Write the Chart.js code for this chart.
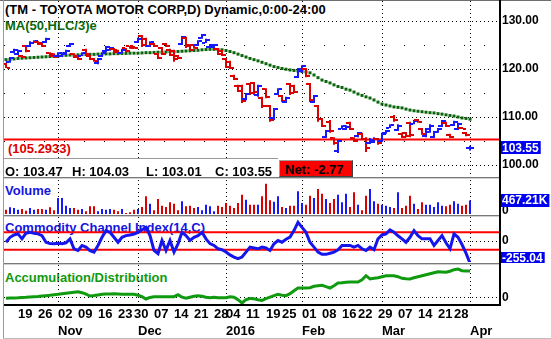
<!DOCTYPE html>
<html>
<head>
<meta charset="utf-8">
<script src="https://cdn.jsdelivr.net/npm/chart.js@4.4.1/dist/chart.umd.min.js"></script>
<style>
  html, body { margin: 0; padding: 0; background: #fff; }
  #wrap { position: relative; width: 551px; height: 339px; overflow: hidden; background: #fff;
          font-family: "Liberation Sans", Arial, Helvetica, sans-serif; font-weight: bold; }
  .pane { position: absolute; left: 0; z-index: 1; }
  .txt { position: absolute; font-size: 13px; line-height: 13px; white-space: nowrap; z-index: 0; }
  .line { position: absolute; z-index: 3; }
  #strip { position: absolute; left: 4px; top: 158px; width: 274px; height: 19px; background: #fff;
           border-top: 1px solid #9a9a9a; z-index: 2; }
  #strip span { position: absolute; top: 6px; font-size: 13px; line-height: 13px; white-space: nowrap; }
  #net { position: absolute; left: 279px; top: 160px; width: 72px; height: 15px; background: #ff0000;
         border-top: 1px solid #a0a0a0; border-left: 1px solid #a0a0a0;
         border-right: 1px solid #404040; border-bottom: 1px solid #404040;
         font-size: 13px; line-height: 15px; z-index: 2; }
  #net span { position: absolute; left: 5px; top: 1px; }
</style>
</head>
<body>
<div id="wrap">
  <div class="txt" style="left:5px;top:3px;color:#000">(TM - TOYOTA MOTOR CORP,D) Dynamic,0:00-24:00</div>
  <div class="txt" style="left:5px;top:19px;color:#0a6a0a">MA(50,HLC/3)e</div>
  <div class="txt" id="trendTxt" style="left:8px;top:142px;color:#e00000"></div>
  <div class="txt" style="left:5px;top:184px;color:#1515e0">Volume</div>
  <div class="txt" style="left:5px;top:221px;color:#1515e0">Commodity Channel Index(14,C)</div>
  <div class="txt" style="left:5px;top:271px;color:#109a10">Accumulation/Distribution</div>

  <canvas class="pane" id="cPrice" width="551" height="178" style="top:0"></canvas>
  <canvas class="pane" id="cVol" width="551" height="35" style="top:180px"></canvas>
  <canvas class="pane" id="cCci" width="551" height="46" style="top:217px"></canvas>
  <canvas class="pane" id="cAd" width="551" height="74" style="top:265px"></canvas>

  <div id="strip">
    <span id="oTxt" style="left:1px"></span>
    <span id="hTxt" style="left:68px"></span>
    <span id="lTxt" style="left:142px"></span>
    <span id="cTxt" style="left:211px"></span>
  </div>
  <div id="net"><span id="netTxt"></span></div>

  <div class="line" style="left:0;top:0;width:551px;height:1px;background:#6e6e6e"></div>
  <div class="line" style="left:3px;top:0;width:1px;height:339px;background:#9a9a9a"></div>
  <div class="line" style="left:3px;top:338px;width:548px;height:1px;background:#bdbdbd"></div>
  <div class="line" style="left:499px;top:0;width:2px;height:306px;background:#000"></div>
  <div class="line" style="left:4px;top:304px;width:497px;height:2px;background:#000"></div>
  <div class="line" style="left:4px;top:177px;width:495px;height:1px;background:#7a7a7a"></div>
  <div class="line" style="left:4px;top:178px;width:495px;height:1px;background:#cfcfcf"></div>
  <div class="line" style="left:4px;top:215px;width:495px;height:1px;background:#7a7a7a"></div>
  <div class="line" style="left:4px;top:216px;width:495px;height:1px;background:#cfcfcf"></div>
  <div class="line" style="left:4px;top:263px;width:495px;height:1px;background:#7a7a7a"></div>
  <div class="line" style="left:4px;top:264px;width:495px;height:1px;background:#cfcfcf"></div>
</div>

<script>
// daily bars, 14 Oct 2015 .. 1 Apr 2016 (index = trading day)
const opens = [
  121.0, 121.5, 123.5, 123.2, 122.8, 124.8, 124.8, 125.5, 125.6, 125.4,
  125.6, 123.3, 123.2, 122.8, 122.8, 123.1, 124.8, 123.1, 122.7, 122.8,
  124.0, 122.7, 122.1, 121.2, 122.7, 123.7, 123.9, 124.2, 123.9, 123.4,
  124.3, 124.7, 124.7, 125.6, 126.8, 126.3, 124.8, 125.3, 123.1, 124.4,
  125.3, 124.0, 123.8, 122.8, 125.2, 126.5, 125.0, 125.0, 125.0, 126.4,
  125.5, 124.5, 124.6, 124.2, 123.8, 122.1, 121.5, 118.6, 116.5, 116.4,
  113.7, 116.9, 117.0, 114.5, 114.0, 115.8, 112.2, 109.7, 114.8, 114.4,
  113.1, 116.9, 116.5, 118.4, 119.5, 120.0, 116.8, 113.1, 112.2, 109.6,
  105.8, 109.0, 105.6, 102.9, 107.6, 107.5, 108.8, 105.6, 106.0, 106.5,
  105.5, 104.6, 104.8, 105.4, 105.0, 106.6, 107.8, 110.1, 107.3, 106.5,
  106.7, 108.8, 108.6, 109.4, 107.5, 106.0, 106.9, 105.8, 106.8, 108.1,
  108.8, 106.3, 108.3, 107.5, 107.8, 106.7, 103.47
];
const highs = [
  121.3, 122.5, 124.2, 124.0, 122.9, 125.0, 125.8, 126.0, 125.8, 125.6,
  126.5, 123.5, 123.3, 123.5, 123.5, 124.0, 125.4, 123.3, 122.9, 123.5,
  124.2, 122.9, 122.3, 122.3, 123.5, 124.8, 124.6, 124.4, 124.0, 124.2,
  124.4, 124.8, 124.8, 126.5, 127.1, 126.5, 125.8, 125.4, 123.3, 124.6,
  125.4, 124.2, 124.0, 122.9, 126.9, 126.7, 125.2, 125.2, 126.0, 127.3,
  126.3, 125.2, 125.2, 124.4, 124.0, 122.3, 121.7, 118.8, 116.7, 116.7,
  115.0, 117.1, 117.3, 116.7, 114.2, 116.0, 112.5, 111.9, 116.0, 114.6,
  114.2, 117.1, 116.7, 120.2, 120.8, 120.2, 117.1, 114.6, 112.5, 109.8,
  107.3, 109.4, 105.8, 105.2, 108.3, 108.3, 109.0, 105.8, 106.9, 106.7,
  105.8, 105.6, 105.8, 105.6, 106.7, 107.3, 108.5, 110.4, 108.5, 106.7,
  106.9, 109.0, 109.4, 109.6, 107.7, 107.7, 108.5, 107.1, 107.7, 109.4,
  109.0, 106.5, 109.2, 108.8, 107.9, 106.9, 104.03
];
const lows = [
  120.2, 121.3, 123.3, 122.9, 122.3, 123.5, 124.6, 125.4, 125.0, 124.6,
  125.4, 122.5, 122.3, 122.7, 122.5, 122.9, 124.6, 122.3, 121.9, 122.7,
  122.9, 121.9, 121.5, 121.0, 122.5, 123.5, 123.8, 123.3, 123.3, 123.3,
  123.5, 124.2, 124.2, 125.4, 124.6, 124.6, 124.6, 124.6, 122.1, 122.9,
  124.6, 122.7, 121.5, 122.1, 125.0, 124.4, 123.8, 124.2, 124.8, 126.3,
  125.4, 124.4, 124.4, 122.9, 122.7, 120.2, 120.0, 117.7, 115.2, 112.9,
  113.5, 114.6, 114.6, 114.2, 111.9, 113.9, 109.0, 109.4, 114.6, 113.1,
  112.9, 114.6, 115.0, 118.1, 119.2, 118.3, 113.1, 112.9, 109.0, 107.9,
  105.6, 106.7, 104.2, 102.5, 107.5, 107.3, 107.3, 104.8, 105.8, 105.2,
  102.7, 104.4, 104.6, 104.2, 104.8, 106.5, 107.7, 109.0, 107.1, 105.6,
  105.8, 105.8, 108.5, 108.8, 106.3, 105.8, 106.7, 105.6, 106.7, 107.9,
  107.9, 105.6, 108.1, 107.3, 107.5, 106.0, 103.01
];
const closes = [
  120.3, 122.3, 124.0, 123.8, 122.5, 123.8, 125.5, 125.9, 125.2, 124.8,
  126.3, 122.7, 122.6, 123.3, 123.4, 123.8, 125.3, 122.5, 122.1, 123.3,
  123.2, 122.0, 121.6, 122.1, 123.3, 124.6, 124.4, 123.5, 123.4, 124.0,
  123.7, 124.3, 124.3, 126.3, 124.9, 124.8, 125.6, 124.8, 122.3, 123.2,
  124.8, 123.0, 122.0, 122.3, 126.7, 124.7, 124.0, 124.4, 125.8, 127.1,
  126.1, 125.0, 125.1, 123.2, 123.0, 120.5, 120.3, 117.9, 115.5, 113.3,
  114.8, 115.0, 115.2, 116.4, 112.2, 114.2, 109.4, 111.6, 115.8, 113.4,
  114.0, 115.0, 115.3, 119.9, 120.6, 118.6, 113.5, 114.3, 109.5, 108.2,
  107.0, 107.0, 104.5, 104.9, 108.1, 108.0, 107.6, 105.0, 106.7, 105.5,
  103.5, 105.3, 105.5, 104.5, 106.4, 107.1, 108.3, 109.3, 108.2, 105.8,
  106.0, 106.2, 109.2, 108.9, 106.5, 107.4, 108.2, 106.9, 107.5, 109.1,
  108.1, 105.8, 109.0, 108.5, 107.6, 106.32, 103.55
];
// MA(50, HLC/3)
const ma50 = [
  121.95, 122.0, 122.1, 122.2, 122.25, 122.3, 122.35, 122.4, 122.45, 122.5,
  122.55, 122.6, 122.65, 122.7, 122.8, 122.85, 122.9, 122.9, 122.95, 123.0,
  123.0, 123.05, 123.05, 123.1, 123.1, 123.15, 123.15, 123.2, 123.2, 123.25,
  123.25, 123.3, 123.3, 123.3, 123.35, 123.4, 123.4, 123.45, 123.5, 123.5,
  123.55, 123.6, 123.6, 123.65, 123.7, 123.75, 123.8, 123.85, 123.9, 124.0,
  124.05, 124.1, 124.1, 124.05, 124.0, 123.85, 123.65, 123.4, 123.1, 122.8,
  122.5, 122.2, 121.95, 121.7, 121.4, 121.1, 120.8, 120.5, 120.3, 120.1,
  119.95, 119.8, 119.7, 119.6, 119.5, 119.4, 119.2, 118.75, 118.2, 117.7,
  117.4, 117.1, 116.7, 116.35, 116.15, 115.8, 115.6, 115.2, 114.8, 114.5,
  114.2, 113.95, 113.55, 113.1, 112.7, 112.5, 112.3, 112.1, 112.0, 111.9,
  111.65, 111.45, 111.3, 111.2, 111.1, 111.0, 110.9, 110.85, 110.7, 110.6,
  110.45, 110.3, 110.2, 110.0, 109.8, 109.7, 109.55
];
// volume, thousands of shares
const volumeK = [
  149, 232, 208, 149, 173, 114, 208, 149, 173, 173,
  149, 232, 128, 554, 554, 287, 208, 208, 149, 173,
  93, 266, 266, 93, 173, 149, 173, 149, 93, 173,
  35, 59, 149, 173, 242, 612, 356, 128, 519, 287,
  242, 405, 356, 128, 439, 266, 287, 208, 242, 128,
  322, 266, 93, 287, 242, 381, 287, 208, 381, 668,
  495, 322, 322, 322, 612, 1048, 474, 420, 612, 242,
  208, 287, 287, 785, 381, 322, 633, 554, 865, 702,
  519, 381, 519, 668, 405, 702, 242, 751, 322, 128,
  633, 865, 439, 356, 322, 287, 242, 208, 751, 208,
  287, 633, 356, 173, 405, 322, 322, 242, 405, 287,
  266, 322, 439, 356, 287, 322, 467.21
];
// Commodity Channel Index (14, C)
const cci14 = [
  -14, 43, 70, 82, 25, 90, 100, 90, 82, 62,
  -14, -30, -32, -25, -30, -20, 25, -89, -108, -51,
  -70, -110, -127, -51, 43, 119, 100, 43, -14, 43,
  62, 70, 80, 100, 130, 157, 62, -108, -145, 6,
  -108, 6, -127, -32, 100, 62, 6, 43, 62, 100,
  25, -30, -51, -89, -100, -127, -160, -184, -202, -184,
  -127, -70, -80, -89, -70, -80, -108, -32, 6, -14,
  20, 45, 120, 214, 157, 100, -14, -70, -127, -153,
  -153, -140, -127, -100, -51, -51, -51, -70, -51, -89,
  -108, -70, -100, 25, 70, 82, 127, 100, 60, 25,
  -14, 43, 119, 62, 25, 25, 25, -51, 6, 62,
  -20, -89, 82, 43, -40, -140, -255.04
];
const cciBands = [100, -100];
// Accumulation/Distribution line
const adLine = [
  -0.6, -0.4, -0.2, 0, 0.3, 0.5, 0.8, 1, 1.2, 1.6,
  2, 2.4, 2.9, 3.4, 4, 4.5, 5, 5.5, 6, 5,
  3.5, 1.7, 2.2, 2.8, 3.4, 3.6, 3.8, 4, 3.7, 3.4,
  3.5, 3.4, 3.4, 2.5, 1, -1.3, 0.3, 1, 1, 1,
  1, 1, 1, 3, 0.5, -0.6, 0.5, 1.5, 2, 1.5,
  0.5, 0, 0.5, 0, 0, 0, 1, 0.5, -2, -5.3,
  -2, -0.7, -1, -2, -2.7, -1, 0.5, 2, 3.4, 2.5,
  2, 4, 7, 9.7, 9.7, 9.7, 10, 11.4, 12, 12.4,
  11, 9.7, 12, 14.7, 15, 15.5, 15.7, 15.7, 15.7, 18,
  22, 18.7, 19.5, 20, 21, 22, 22, 22, 21, 19.4,
  19, 18.7, 20, 21, 22, 23, 24, 25, 26, 25.7,
  25.4, 26.5, 28, 28.7, 27, 26.7, 26.7
];
const trendLevel = 105.2933;

const priceGridLevels = [100, 105, 110, 115, 120, 125, 130];
const monthStartBars = [13, 33, 55, 74, 94, 116];
const monthLabels = ['Nov', 'Dec', '2016', 'Feb', 'Mar', 'Apr'];
const weekBars = [3, 8, 13, 18, 23, 28, 32, 37, 42, 47, 52, 55, 60, 65, 69, 74, 79, 84, 88, 93, 98, 103, 108, 112];
const weekLabels = ['19', '26', '02', '09', '16', '23', '30', '07', '14', '21', '28', '04', '11', '19', '25', '01', '08', '16', '22', '29', '07', '14', '21', '28'];

const UP = '#1818ff';
const DOWN = '#dd0000';
const FONT = '"Liberation Sans", Arial, Helvetica, sans-serif';
const X_MIN = -0.5, X_MAX = 123.5;

const N = closes.length;
const idx = closes.map((c, i) => i);
const barColors = idx.map(i => (closes[i] >= opens[i] ? UP : DOWN));

// little open (left) / close (right) ticks used as point images
function tickImage(color, side) {
  const c = document.createElement('canvas');
  c.width = 8; c.height = 2;
  const g = c.getContext('2d');
  g.fillStyle = color;
  g.fillRect(side === 'left' ? 0 : 5, 0, 3, 2);
  return c;
}
const tickImgs = {
  left: { [UP]: tickImage(UP, 'left'), [DOWN]: tickImage(DOWN, 'left') },
  right: { [UP]: tickImage(UP, 'right'), [DOWN]: tickImage(DOWN, 'right') }
};

// value box on the right axis (last value)
const valueBox = {
  id: 'valueBox',
  afterDraw(chart, args, opts) {
    if (!opts || opts.text === undefined) return;
    const area = chart.chartArea, ctx = chart.ctx;
    let y = chart.scales.y.getPixelForValue(opts.value);
    y = Math.max(area.top + 6, Math.min(y, area.bottom - 4));
    ctx.save();
    ctx.font = 'bold 12px ' + FONT;
    const w = ctx.measureText(opts.text).width + 3;
    ctx.fillStyle = '#0000f0';
    ctx.fillRect(area.right + 1, Math.round(y - 6.5), w, 13);
    ctx.fillStyle = '#fff';
    ctx.textBaseline = 'middle';
    ctx.fillText(opts.text, area.right + 2, y + 0.5);
    ctx.restore();
  }
};

function noPad(s) { s.paddingTop = 0; s.paddingBottom = 0; s.paddingLeft = 0; s.paddingRight = 0; }

function monthGrid() {
  return {
    type: 'linear', position: 'bottom', min: X_MIN, max: X_MAX, offset: false, weight: 0,
    afterBuildTicks: s => { s.ticks = monthStartBars.map(v => ({ value: v })); },
    afterFit: s => { noPad(s); s.height = 0; },
    ticks: { display: false, autoSkip: false },
    grid: { color: '#000', lineWidth: 1, drawTicks: false, offset: false },
    border: { display: false, dash: [1, 3] }
  };
}
function rightAxis(min, max, levels, label, gridOn, dashFn, labelOffset) {
  return {
    type: 'linear', position: 'right', min: min, max: max,
    afterBuildTicks: s => { s.ticks = levels.map(v => ({ value: v })); },
    afterFit: s => { noPad(s); s.width = 51; },
    ticks: { callback: label, color: '#000', padding: 2, labelOffset: labelOffset || 0, autoSkip: false,
             font: { family: FONT, size: 12, weight: 'bold' } },
    grid: { display: gridOn, color: '#000', lineWidth: 1, drawTicks: false },
    border: { display: false, dash: dashFn || [1, 3] }
  };
}
function labelAxis(bars, labels, weight, padding) {
  return {
    type: 'linear', position: 'bottom', min: X_MIN, max: X_MAX, offset: false, weight: weight,
    afterBuildTicks: s => { s.ticks = bars.map(v => ({ value: v })); },
    afterFit: s => { noPad(s); s.height = 17; },
    ticks: { autoSkip: false, maxRotation: 0, minRotation: 0, align: 'start', padding: padding, color: '#000',
             font: { family: FONT, size: 13, weight: 'bold', lineHeight: 1 }, callback: (v, i) => labels[i] },
    grid: { display: false, drawTicks: false }, border: { display: false }
  };
}
function baseOptions(scales, padding, box) {
  return {
    responsive: false, animation: false, events: [],
    layout: { padding: padding, autoPadding: false },
    plugins: { legend: { display: false }, tooltip: { enabled: false }, valueBox: box || {} },
    scales: scales
  };
}

// price pane
new Chart(document.getElementById('cPrice'), {
  type: 'scatter',
  data: { datasets: [
    { type: 'line', data: [{ x: X_MIN, y: trendLevel }, { x: X_MAX, y: trendLevel }],
      borderColor: '#ff0000', borderWidth: 2, pointRadius: 0, order: 5 },
    { type: 'scatter', data: idx.map(i => ({ x: i, y: ma50[i] })), pointStyle: 'rect',
      pointRadius: 2.12, backgroundColor: '#0a640a', borderWidth: 0, order: 4 },
    { type: 'bar', data: idx.map(i => ({ x: i, y: [lows[i], highs[i]] })), backgroundColor: barColors,
      barThickness: 2, borderWidth: 0, inflateAmount: 0, order: 3 },
    { type: 'scatter', data: idx.map(i => ({ x: i, y: opens[i] })), pointRadius: 1,
      pointStyle: barColors.map(c => tickImgs.left[c]), order: 2 },
    { type: 'scatter', data: idx.map(i => ({ x: i, y: closes[i] })), pointRadius: 1,
      pointStyle: barColors.map(c => tickImgs.right[c]), order: 2 }
  ] },
  options: baseOptions({
    x: monthGrid(),
    y: rightAxis(97.5, 134.167, priceGridLevels, v => (v % 10 === 0 ? v.toFixed(2) : ''), true,
      c => (c.tick && c.tick.value % 10 !== 0 ? [1, 19] : [1, 3]))
  }, { left: 4, top: 1, right: 0, bottom: 1 }, { value: closes[N - 1], text: closes[N - 1].toFixed(2) }),
  plugins: [valueBox]
});

// volume pane
new Chart(document.getElementById('cVol'), {
  type: 'scatter',
  data: { datasets: [
    { type: 'bar', data: idx.map(i => ({ x: i, y: volumeK[i] })), backgroundColor: barColors,
      barThickness: 2, borderWidth: 0, inflateAmount: 0 }
  ] },
  options: baseOptions({
    x: monthGrid(),
    y: rightAxis(0, 1176, [0], () => '0', false, null, -3)
  }, { left: 4, top: 0, right: 0, bottom: 1 }, { value: volumeK[N - 1], text: volumeK[N - 1].toFixed(2) + 'K' }),
  plugins: [valueBox]
});

// CCI pane
new Chart(document.getElementById('cCci'), {
  type: 'scatter',
  data: { datasets: [
    { type: 'line', data: idx.map(i => ({ x: i, y: cci14[i] })), borderColor: '#1515ee', borderWidth: 3,
      pointRadius: 0, tension: 0, order: 0 },
    ...cciBands.map(b => ({ type: 'line', data: [{ x: X_MIN, y: b }, { x: X_MAX, y: b }],
      borderColor: '#ff0000', borderWidth: 2, pointRadius: 0, order: 1 }))
  ] },
  options: baseOptions({
    x: monthGrid(),
    y: rightAxis(-241, 276, [0], () => '0', true)
  }, { left: 4, top: 0, right: 0, bottom: 1 }, { value: cci14[N - 1], text: cci14[N - 1].toFixed(2) }),
  plugins: [valueBox]
});

// A/D pane with the date axes
new Chart(document.getElementById('cAd'), {
  type: 'scatter',
  data: { datasets: [
    { type: 'line', xAxisID: 'x', data: idx.map(i => ({ x: i, y: adLine[i] })), borderColor: '#109a10',
      borderWidth: 3, pointRadius: 0, tension: 0 }
  ] },
  options: baseOptions({
    x: monthGrid(),
    xd: labelAxis(weekBars, weekLabels, 1, 3),
    xm: labelAxis(monthStartBars, monthLabels, 2, 3),
    y: rightAxis(-7.3, 32.7, [0], () => '0', true)
  }, { left: 4, top: 0, right: 0, bottom: 0 }),
  plugins: [valueBox]
});

// header texts
document.getElementById('trendTxt').textContent = '(' + trendLevel.toFixed(4) + ')';
document.getElementById('oTxt').textContent = 'O: ' + opens[N - 1].toFixed(2);
document.getElementById('hTxt').textContent = 'H: ' + highs[N - 1].toFixed(2);
document.getElementById('lTxt').textContent = 'L: ' + lows[N - 1].toFixed(2);
document.getElementById('cTxt').textContent = 'C: ' + closes[N - 1].toFixed(2);
document.getElementById('netTxt').textContent = 'Net: ' + (closes[N - 1] - closes[N - 2]).toFixed(2);
</script>
</body>
</html>
